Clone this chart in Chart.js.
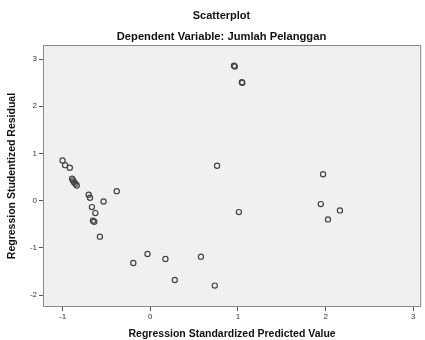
<!DOCTYPE html>
<html>
<head>
<meta charset="utf-8">
<script src="https://cdn.jsdelivr.net/npm/chart.js@4.4.1/dist/chart.umd.min.js"></script>
<style>
  html, body { margin: 0; padding: 0; background: #fff; }
  #wrap { width: 425px; height: 340px; }
</style>
</head>
<body>
<div id="wrap"><canvas id="chart"></canvas></div>
<script>
// standardized predicted values (x) and studentized residuals (y)
const predicted = [
  -1.000, -0.971, -0.917, -0.891, -0.880, -0.869, -0.853, -0.838,
  -0.702, -0.687, -0.532, -0.382, -0.665, -0.626, -0.653, -0.638,
  -0.574, -0.193, -0.031, 0.173, 0.280, 0.578, 0.736, 0.762,
  1.011, 1.971, 1.945, 2.163, 2.027, 0.955, 0.965, 1.050, 1.045
];
const residual = [
  0.852, 0.753, 0.698, 0.465, 0.429, 0.393, 0.359, 0.323,
  0.127, 0.063, -0.015, 0.203, -0.135, -0.262, -0.423, -0.444,
  -0.761, -1.319, -1.129, -1.235, -1.679, -1.184, -1.797, 0.740,
  -0.241, 0.562, -0.072, -0.205, -0.395, 2.860, 2.840, 2.495, 2.510
];
const xTicks = [-1, 0, 1, 2, 3];
const yTicks = [-2, -1, 0, 1, 2, 3];

const points = predicted.map((x, i) => ({ x: x, y: residual[i] }));

// grey plot background with a frame, like SPSS output
const plotFrame = {
  id: 'plotFrame',
  beforeDatasetsDraw(chart) {
    const { ctx, chartArea: a } = chart;
    ctx.save();
    ctx.fillStyle = '#f0f0f0';
    ctx.fillRect(a.left, a.top, a.right - a.left, a.bottom - a.top);
    ctx.strokeStyle = '#8a8a8a';
    ctx.lineWidth = 1;
    ctx.strokeRect(a.left + 0.5, a.top + 0.5, a.right - a.left - 1, a.bottom - a.top - 1);
    ctx.restore();
  }
};

const fam = 'Arial, "Liberation Sans", sans-serif';
const tickFont = { family: fam, size: 8 };
const titleFont = { family: fam, size: 10.5, weight: 'bold' };

new Chart(document.getElementById('chart'), {
  type: 'scatter',
  data: {
    datasets: [{
      data: points,
      pointRadius: 2.6,
      pointBorderWidth: 1.2,
      pointBorderColor: '#444',
      pointBackgroundColor: 'rgba(0,0,0,0)',
      pointHoverRadius: 2.6
    }]
  },
  options: {
    responsive: true,
    maintainAspectRatio: false,
    animation: false,
    // left padding pushes the chart titles a bit right of the canvas centre
    layout: { padding: { left: 19, right: 1, top: 0, bottom: 0 } },
    plugins: {
      legend: { display: false },
      tooltip: { enabled: false },
      title: {
        display: true,
        text: 'Scatterplot',
        color: '#111',
        font: { family: fam, size: 11, weight: 'bold' },
        padding: { top: 9, bottom: 8 }
      },
      subtitle: {
        display: true,
        text: 'Dependent Variable: Jumlah Pelanggan',
        color: '#111',
        font: { family: fam, size: 11.2, weight: 'bold' },
        padding: { top: 0, bottom: 1.4 }
      }
    },
    scales: {
      x: {
        type: 'linear',
        min: -1.223,
        max: 3.09,
        afterBuildTicks: axis => { axis.ticks = xTicks.map(v => ({ value: v })); },
        afterFit: axis => { axis.height = 33; },
        grid: { drawOnChartArea: false, drawTicks: true, tickLength: 4, color: '#555' },
        border: { display: false },
        ticks: { font: tickFont, color: '#333', padding: 1, maxRotation: 0 },
        title: { display: true, text: 'Regression Standardized Predicted Value', color: '#111', font: titleFont, padding: { top: 4, bottom: 0 } }
      },
      y: {
        type: 'linear',
        min: -2.25,
        max: 3.296,
        afterBuildTicks: axis => { axis.ticks = yTicks.map(v => ({ value: v })); },
        afterFit: axis => { axis.width = 24; },
        grid: { drawOnChartArea: false, drawTicks: true, tickLength: 4, color: '#555' },
        border: { display: false },
        ticks: { font: tickFont, color: '#333', padding: 2 },
        title: { display: true, text: 'Regression Studentized Residual', color: '#111', font: titleFont, padding: { top: -13, bottom: 4 } }
      }
    }
  },
  plugins: [plotFrame]
});
</script>
</body>
</html>
